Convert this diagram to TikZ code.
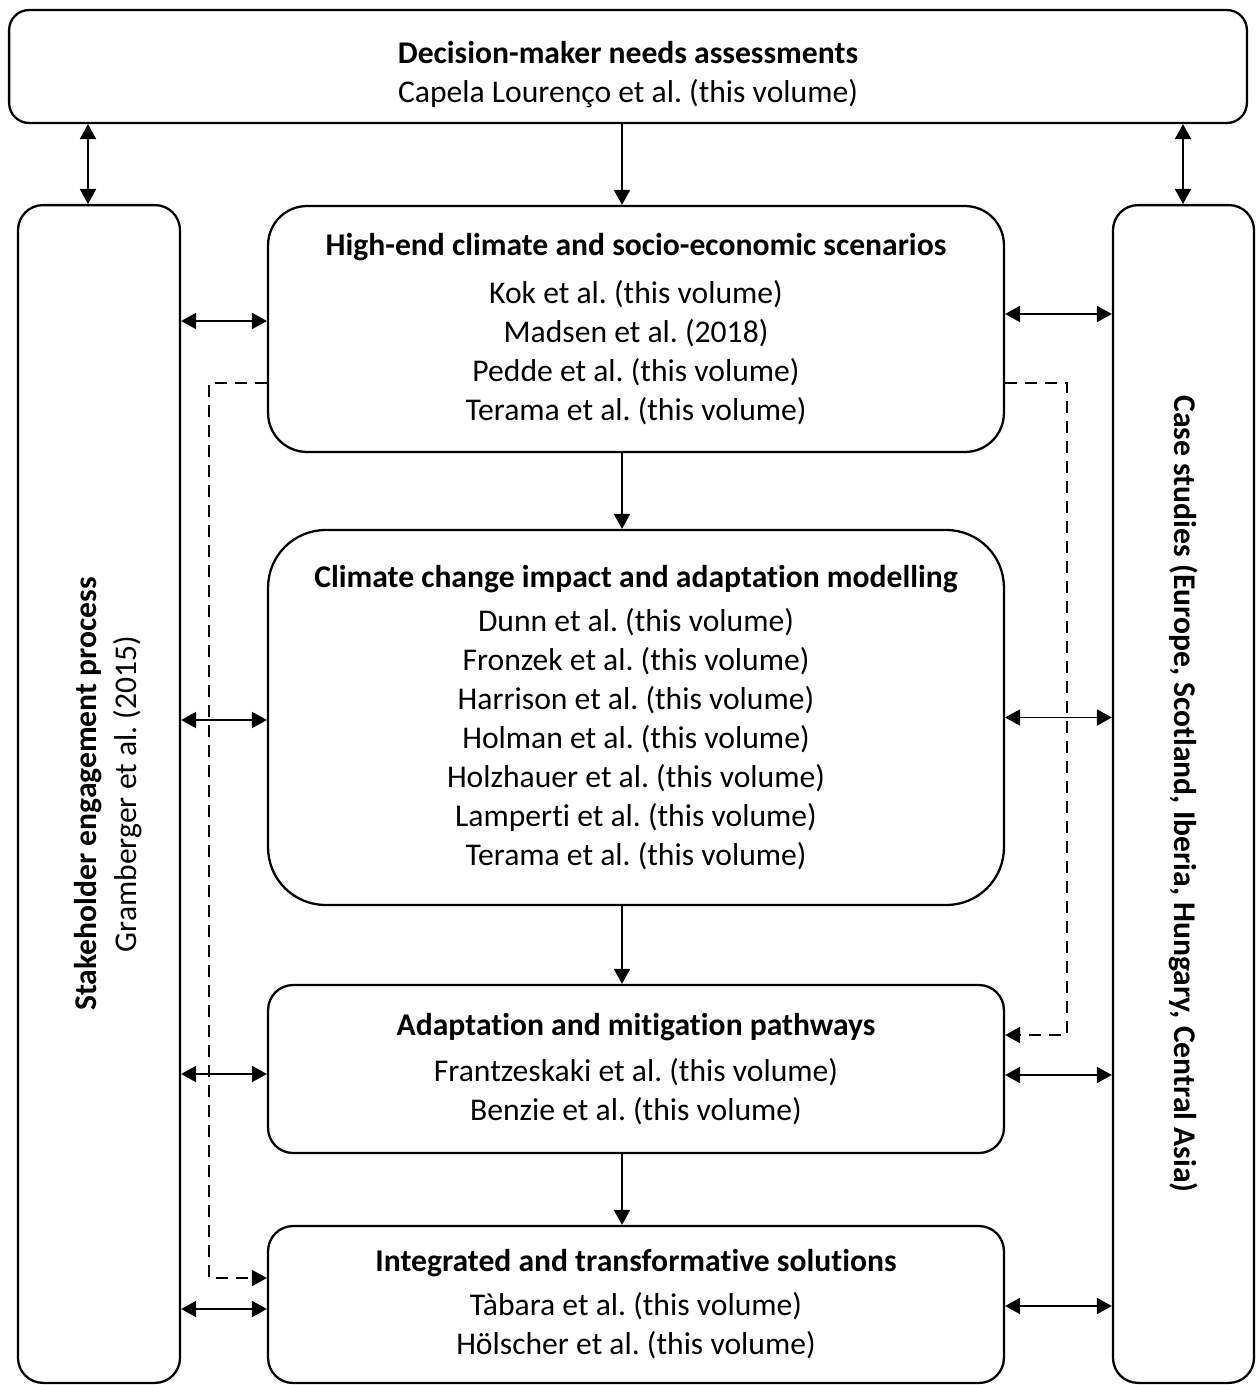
\documentclass[tikz,border=0pt]{standalone}
\usepackage{fontspec}
\setmainfont{Carlito}[Ligatures=NoCommon]
\frenchspacing
\usepackage{tikz}
\usetikzlibrary{calc, arrows.meta}
\tikzstyle{box}       = [draw, line width=1.3pt, align=center, minimum width=14.72cm, font=\fontsize{18}{22.2}\selectfont]
\tikzstyle{arrow}     = [line width=1.1pt, -{Triangle[length=0.3cm,width=0.32cm]}]
\tikzstyle{dblarrow}  = [line width=1.1pt, {Triangle[length=0.3cm,width=0.32cm]}-{Triangle[length=0.3cm,width=0.32cm]}]
\tikzstyle{dasharrow} = [arrow, line width=0.9pt, dash pattern=on 2.4mm off 1.6mm]

\begin{document}
\begin{tikzpicture}[x=0.02cm, y=-0.02cm]
  \useasboundingbox (0,0) rectangle (1256,1385);

  %top box
  \node[box, rounded corners=0.4cm, minimum width=24.76cm, minimum height=2.26cm] (needs) at (628,66.5)
    {\rule{0pt}{0.75cm}\textbf{Decision-maker needs assessments}\\Capela Lourenço et al. (this volume)};

  %the two side boxes
  \node[box, rounded corners=0.5cm, minimum width=3.24cm, minimum height=23.56cm] (stake) at (99,794) {};
  \node[rotate=90, align=center, font=\fontsize{18}{22.8}\selectfont] (staketxt) at (108,794)
    {\textbf{Stakeholder engagement process}\\Gramberger et al. (2015)};
  \node[box, rounded corners=0.5cm, minimum width=2.82cm, minimum height=23.56cm] (cases) at (1183.5,794) {};
  \node[rotate=-90, font=\fontsize{18}{22.2}\selectfont\bfseries] (casestxt) at (cases)
    {Case studies (Europe, Scotland, Iberia, Hungary, Central Asia)};

  %the column in the middle
  \node[box, rounded corners=0.78cm, minimum height=4.92cm] (scen) at (636,329)
    {\textbf{High-end climate and socio-economic scenarios}\\[0.18cm]
     Kok et al. (this volume)\\Madsen et al. (2018)\\Pedde et al. (this volume)\\Terama et al. (this volume)};
  \node[box, rounded corners=1.15cm, minimum height=7.5cm] (model) at (636,717.5)
    {\textbf{Climate change impact and adaptation modelling}\\[0.1cm]
     Dunn et al. (this volume)\\Fronzek et al. (this volume)\\Harrison et al. (this volume)\\
     Holman et al. (this volume)\\Holzhauer et al. (this volume)\\Lamperti et al. (this volume)\\
     Terama et al. (this volume)};
  \node[box, rounded corners=0.5cm, minimum height=3.36cm] (path) at (636,1069)
    {\textbf{Adaptation and mitigation pathways}\\[0.14cm]
     Frantzeskaki et al. (this volume)\\Benzie et al. (this volume)};
  \node[box, rounded corners=0.5cm, minimum height=3.14cm] (sol) at (636,1304.5)
    {\textbf{Integrated and transformative solutions}\\[0.1cm]
     Tàbara et al. (this volume)\\Hölscher et al. (this volume)};

  %columns for the vertical arrows
  \coordinate (lcol) at (88,0);
  \coordinate (mcol) at (622,0);
  \coordinate (rcol) at (1183,0);

  \draw[dblarrow] (lcol |- needs.south) -- (lcol |- stake.north);
  \draw[dblarrow] (rcol |- needs.south) -- (rcol |- cases.north);
  \draw[arrow] (mcol |- needs.south) -- (mcol |- scen.north);
  \draw[arrow] (mcol |- scen.south) -- (mcol |- model.north);
  \draw[arrow] (mcol |- model.south) -- (mcol |- path.north);
  \draw[arrow] (mcol |- path.south) -- (mcol |- sol.north);

  %links to the side boxes
  \foreach \b/\ly/\ry in {scen/0.16cm/0.3cm, model/-0.05cm/0cm, path/-0.1cm/-0.12cm, sol/-0.09cm/-0.03cm}{
    \draw[dblarrow] ($(stake.east |- \b.west)+(0,\ly)$) -- ($(\b.west)+(0,\ly)$);
    \draw[dblarrow] ($(\b.east)+(0,\ry)$) -- ($(cases.west |- \b.east)+(0,\ry)$);
  }

  %dashed links
  \draw[dasharrow] ([yshift=-1.08cm]scen.west) -- ++(-1.16cm,0) |- ([yshift=0.53cm]sol.west);
  \draw[dasharrow] ([yshift=-1.08cm]scen.east) -- ++(1.24cm,0) |- ([yshift=0.68cm]path.east);
\end{tikzpicture}
\end{document}
